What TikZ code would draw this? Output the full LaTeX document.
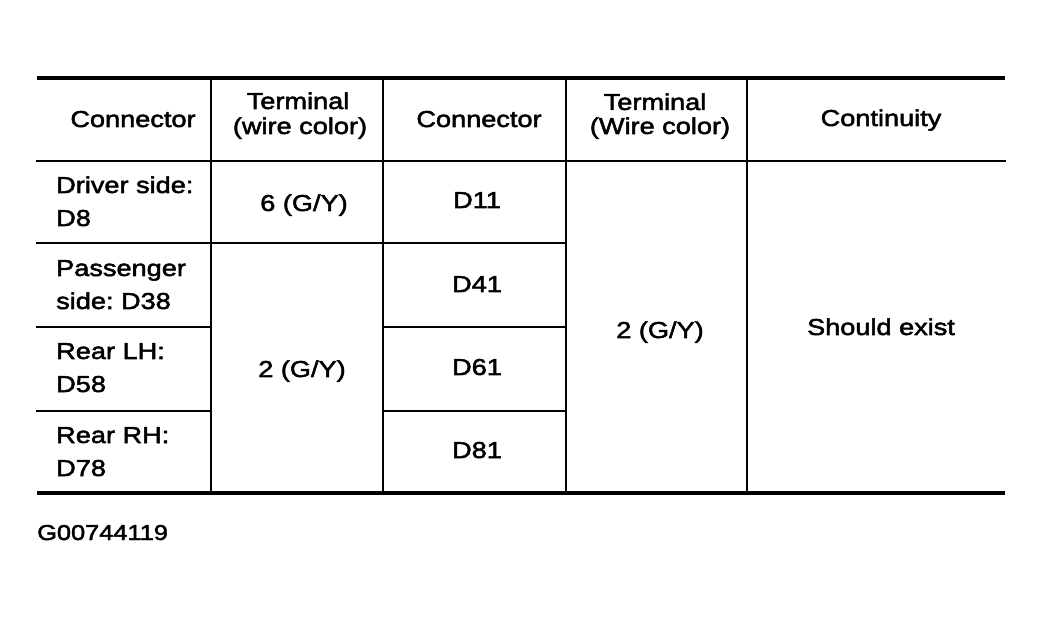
\documentclass[tikz,border=0pt]{standalone}
\usepackage{fontspec}
\setmainfont{Liberation Sans}[FakeStretch=1.18,FakeBold=2.2]
\frenchspacing
\begin{document}
\begin{tikzpicture}[x=1pt,y=-1pt,
  thin rule/.style={line width=2pt,line cap=rect},
  thick rule/.style={line width=4.5pt},
  txt/.style={inner sep=0pt,font=\fontsize{23}{25}\selectfont},
  ctxt/.style={txt,anchor=base},
  ltxt/.style={txt,anchor=base west}]
\fill[white] (0,0) rectangle (1044,617);
\useasboundingbox (0,0) rectangle (1044,617);
% grid coordinates
\foreach \n/\x in {L/37,A/211,B/383,C/566,E/747,R/1005}{
  \foreach \m/\y in {T/78,H/161,a/243,b/327,c/411,Z/493}{
    \coordinate (\n\m) at (\x,\y);
  }
}
% rules
\draw[thick rule] (LT) -- (RT);
\draw[thick rule] (LZ) -- (RZ);
\draw[thin rule] (LH) -- (RH);
\draw[thin rule] (La) -- (Ca);
\draw[thin rule] (Lb) -- (Ab);
\draw[thin rule] (Bb) -- (Cb);
\draw[thin rule] (Lc) -- (Ac);
\draw[thin rule] (Bc) -- (Cc);
\draw[thin rule] (AT) -- (AZ);
\draw[thin rule] (BT) -- (BZ);
\draw[thin rule] (CT) -- (CZ);
\draw[thin rule] (ET) -- (EZ);
% header
\node[ctxt] (h1) at (133,127) {Connector};
\node[ctxt] (h2a) at (298,109) {Terminal};
\node[ctxt] (h2b) at (300,134) {(wire color)};
\node[ctxt] (h3) at (479,127) {Connector};
\node[ctxt] (h4a) at (655,110) {Terminal};
\node[ctxt] (h4b) at (660,134) {(Wire color)};
\node[ctxt] (h5) at (881,126) {Continuity};
% column 1
\node[ltxt] (c1a) at (56,193) {Driver side:};
\node[ltxt] (c1b) at (56,226) {D8};
\node[ltxt] (c2a) at (56,276) {Passenger};
\node[ltxt] (c2b) at (56,309) {side: D38};
\node[ltxt] (c3a) at (56,359) {Rear LH:};
\node[ltxt] (c3b) at (56,392) {D58};
\node[ltxt] (c4a) at (56,443) {Rear RH:};
\node[ltxt] (c4b) at (56,476) {D78};
% column 2
\node[ctxt] (t1) at (304,211) {6 (G/Y)};
\node[ctxt] (t2) at (302,377) {2 (G/Y)};
% column 3
\node[ctxt] (d11) at (477,208) {D11};
\node[ctxt] (d41) at (477,292) {D41};
\node[ctxt] (d61) at (477,375) {D61};
\node[ctxt] (d81) at (477,458) {D81};
% column 4 and 5
\node[ctxt] (t3) at (660,338) {2 (G/Y)};
\node[ctxt] (cont) at (881,335) {Should exist};
% figure id
\node[ltxt,font=\fontsize{21.5}{24}\selectfont] (fid) at (37,540) {G00744119};
\end{tikzpicture}
\end{document}
